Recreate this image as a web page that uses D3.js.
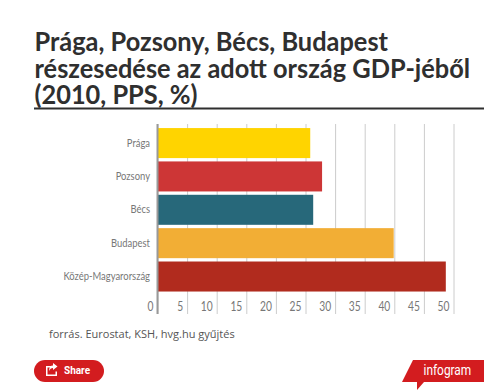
<!DOCTYPE html>
<html>
<head>
<meta charset="utf-8">
<script src="https://cdnjs.cloudflare.com/ajax/libs/d3/7.8.5/d3.min.js"></script>
<style>
  html, body { margin: 0; padding: 0; background: #fff; }
  svg { display: block; }
  .title { font-family: Lato, sans-serif; font-weight: 700; font-size: 27px; fill: #2f2f2f; }
  .tickLabel { font-family: Lato, sans-serif; font-size: 11.5px; fill: #777; }
</style>
</head>
<body>
<div id="chart"></div>
<script>
const titleLines = ["Prága, Pozsony, Bécs, Budapest", "részesedése az adott ország GDP-jéből", "(2010, PPS, %)"];
const categories = ["Prága", "Pozsony", "Bécs", "Budapest", "Közép-Magyarország"];
const values = [25.8, 27.8, 26.3, 39.9, 48.7];
const colors = ["#ffd400", "#cd3636", "#27687a", "#f2ae35", "#b12b1e"];
const xTicks = [0, 5, 10, 15, 20, 25, 30, 35, 40, 45, 50];

const width = 500;
const height = 392;
const margin = {top: 124, left: 157.5, right: 46.5, bottom: 78};

// no narrow font installed, so labels get squeezed horizontally
const narrow = 0.82;

const svg = d3.select("#chart")
    .append("svg")
    .attr("width", width)
    .attr("height", height);

// title + rule under it
svg.selectAll("text.title")
    .data(titleLines)
    .join("text")
    .attr("class", "title")
    .attr("transform", function(d, i) { return `translate(34.5,${51 + i * 26.5}) scale(0.94,1)`; })
    .text(function(d) { return d; });

svg.append("rect")
    .attr("x", 34)
    .attr("y", 107.5)
    .attr("width", 450)
    .attr("height", 2)
    .attr("fill", "#2f2f2f");

const xScale = d3.scaleLinear()
    .domain([0, 50])
    .range([margin.left, width - margin.right]);

const yScale = d3.scaleBand()
    .domain(categories)
    .range([126.4, 293.2])
    .paddingInner(0.1)
    .paddingOuter(0.05);

// vertical gridlines with labels sitting left of them
const xAxis = svg.append("g")
    .attr("transform", `translate(0,${height - margin.bottom})`)
    .call(d3.axisBottom(xScale).tickValues(xTicks).tickSize(-(height - margin.bottom - margin.top)));

xAxis.select(".domain").remove();
xAxis.selectAll("line").attr("stroke", "#cccccc");
xAxis.selectAll("text")
    .attr("class", "tickLabel")
    .attr("text-anchor", "end")
    .attr("x", -4.5 / narrow)
    .attr("y", -3)
    .attr("dy", 0)
    .attr("transform", `scale(${narrow},1)`)
    .style("font-size", "12.5px");

// bars
svg.selectAll("rect.bar")
    .data(categories)
    .join("rect")
    .attr("class", "bar")
    .attr("x", xScale(0))
    .attr("y", function(d) { return yScale(d); })
    .attr("width", function(d, i) { return xScale(values[i]) - xScale(0); })
    .attr("height", yScale.bandwidth())
    .attr("fill", function(d, i) { return colors[i]; });

// thick zero line
svg.append("line")
    .attr("x1", xScale(0))
    .attr("x2", xScale(0))
    .attr("y1", margin.top)
    .attr("y2", height - margin.bottom)
    .attr("stroke", "#999999")
    .attr("stroke-width", 2);

// category labels
const yAxis = svg.append("g")
    .attr("transform", `translate(${margin.left},0)`)
    .call(d3.axisLeft(yScale).tickSize(0));

yAxis.select(".domain").remove();
yAxis.selectAll("text")
    .attr("class", "tickLabel")
    .attr("x", -7.5 / narrow)
    .attr("dy", "0.32em")
    .attr("transform", `scale(${narrow},1)`);

// source note
svg.append("text")
    .attr("x", 49)
    .attr("y", 338)
    .attr("font-family", "'Open Sans', sans-serif")
    .attr("font-size", 11)
    .attr("fill", "#555")
    .text("forrás. Eurostat, KSH, hvg.hu gyűjtés");

// share button
const share = svg.append("g");
share.append("rect")
    .attr("x", 34)
    .attr("y", 360)
    .attr("width", 70)
    .attr("height", 22)
    .attr("rx", 11)
    .attr("fill", "#d31c1f");
share.append("path")
    .attr("d", "M46 366h5v1.500h-3.500v7h8v-3h1.500v4.500h-11zM53 363l4.500 3.500-4.500 3.500v-2c-2 0-3 1-4 3 0-3.500 1.500-5.500 4-5.500z")
    .attr("fill", "#fff");
share.append("text")
    .attr("x", 64)
    .attr("y", 374)
    .attr("font-family", "Roboto, sans-serif")
    .attr("font-weight", 700)
    .attr("font-size", 10)
    .attr("fill", "#fff")
    .text("Share");

// infogram badge
const badge = svg.append("g");
badge.append("path")
    .attr("d", "M413 360H484V382H424L417 390V382H402Z")
    .attr("fill", "#d31c1f");
badge.append("text")
    .attr("transform", "translate(423.500,375) scale(0.85,1)")
    .attr("font-family", "Roboto, sans-serif")
    .attr("font-size", 14)
    .attr("fill", "#fff")
    .text("infogram");
</script>
</body>
</html>
